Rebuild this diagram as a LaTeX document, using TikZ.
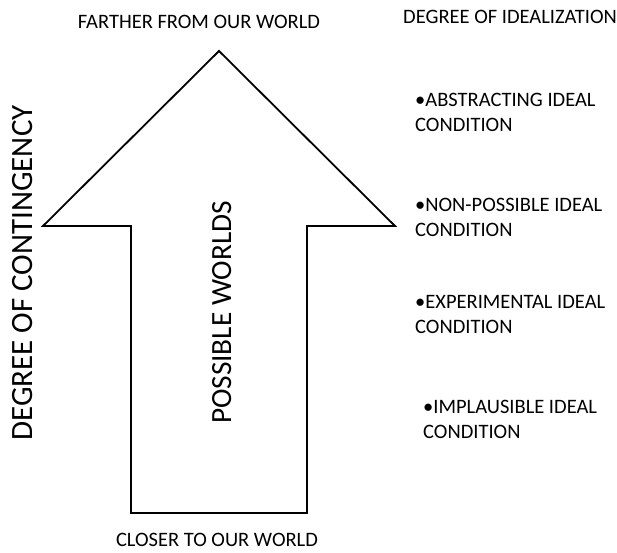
\documentclass[tikz,border=0pt]{standalone}
\usepackage{fontspec}
\setmainfont{Carlito}
\begin{document}
\begin{tikzpicture}[x=1pt,y=-1pt,
  lbl/.style={font=\fontsize{20.5}{25}\selectfont, inner sep=0pt, anchor=base},
  side/.style={lbl, anchor=base west},
  big/.style={font=\fontsize{#1}{#1}\selectfont, inner sep=0pt, rotate=90, anchor=base},
  outline/.style={draw=black, line width=1.8pt, line join=miter}]
\useasboundingbox (0,0) rectangle (617,552);
\coordinate (tip) at (219,51);
\coordinate (lc) at (43,226);
\coordinate (rc) at (395,226);
\coordinate (sl) at (131,226);
\coordinate (sr) at (307,226);
\coordinate (bl) at (131,513);
\coordinate (br) at (307,513);
\draw[outline] (tip) -- (rc) -- (sr) -- (br) -- (bl) -- (sl) -- (lc) -- cycle;
\node[lbl] (far) at (199,28) {FARTHER FROM OUR WORLD};
\node[lbl] (close) at (217,546) {CLOSER TO OUR WORLD};
\node[side] (ideal) at (403,23) {DEGREE OF IDEALIZATION};
\node[side] (a1) at (415,106.5) {•ABSTRACTING IDEAL};
\node[side] (a2) at (415,131.5) {CONDITION};
\node[side] (b1) at (415,211.5) {•NON-POSSIBLE IDEAL};
\node[side] (b2) at (415,236.5) {CONDITION};
\node[side] (c1) at (415,308.5) {•EXPERIMENTAL IDEAL};
\node[side] (c2) at (415,333.5) {CONDITION};
\node[side] (d1) at (423,413.5) {•IMPLAUSIBLE IDEAL};
\node[side] (d2) at (423,438.5) {CONDITION};
\node[big=31] (cont) at (32,273) {DEGREE OF CONTINGENCY};
\node[big=29.3] (pw) at (231,312.5) {POSSIBLE WORLDS};
\end{tikzpicture}
\end{document}
